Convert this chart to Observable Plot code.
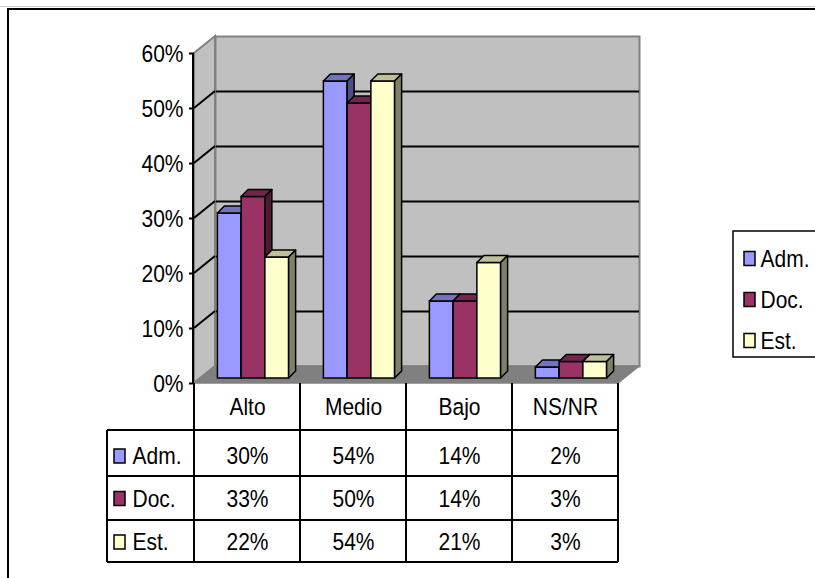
<!DOCTYPE html>
<html>
<head>
<meta charset="utf-8">
<script src="https://cdn.jsdelivr.net/npm/d3@7"></script>
<script src="https://cdn.jsdelivr.net/npm/@observablehq/plot@0.6"></script>
<style>
  body { margin: 0; background: #fff; }
  #wrap { position: relative; width: 815px; height: 578px; overflow: hidden; background: #fff; }
  #wrap svg { position: absolute; left: 0; top: 0; }
  #topline { position: absolute; left: 0; top: 6px; width: 815px; height: 1px; background: #c8c8c8; }
  #border { position: absolute; left: 7px; top: 8px; width: 900px; height: 700px; border: 2px solid #000; box-sizing: border-box; pointer-events: none; }
</style>
</head>
<body>
<div id="wrap"></div>
<script>
// ---- data ----
const categories = ["Alto", "Medio", "Bajo", "NS/NR"];
const seriesNames = ["Adm.", "Doc.", "Est."];
const admValues = [0.30, 0.54, 0.14, 0.02];
const docValues = [0.33, 0.50, 0.14, 0.03];
const estValues = [0.22, 0.54, 0.21, 0.03];
const yTicks = [0, 0.1, 0.2, 0.3, 0.4, 0.5, 0.6];
const gridTicks = [0.1, 0.2, 0.3, 0.4, 0.5];

// ---- styles ----
const frontColors = ["#9999FF", "#993366", "#FFFFCC"];
const topColors = ["#7373BF", "#73264D", "#BFBF99"];
const sideColors = ["#4D4D80", "#4D1A33", "#808066"];
const FONT = "'Liberation Sans', Arial, Helvetica, sans-serif";
const FS = 21;
const TEXT_STRETCH = 1.18;

const valueSeries = [admValues, docValues, estValues];
const rows = [];
valueSeries.forEach((vals, k) => categories.forEach((c, i) => rows.push({cat: c, series: seriesNames[k], k, value: vals[i]})));
const fmt = d3.format(".0%");

const W = 815, H = 578;
const M = {left: 194, right: 197, top: 53, bottom: 195};
const B = (W - M.left - M.right) / categories.length; // band width
const barW = 0.224 * B;
const groupPad = (B - 3 * barW) / 2;
const DX = 21, DY = -17;      // wall depth
const BFX = 6, BFY = -5;      // bar front offset
const BDX = 7, BDY = -7;      // bar depth
const rowDy = [72.5, 115, 158.5];
const headerDy = 23;
const tableLines = [47, 93, 137, 179];
const NS = "http://www.w3.org/2000/svg";

function el(tag, attrs) {
  const e = document.createElementNS(NS, tag);
  for (const [k, v] of Object.entries(attrs)) e.setAttribute(k, v);
  return e;
}

function walls(index, scales, values, dims) {
  const x0 = dims.marginLeft, x1 = dims.width - dims.marginRight;
  const y0 = scales.y(0), yT = scales.y(0.6);
  const g = el("g", {});
  g.appendChild(el("path", {d: `M${x0},${y0}L${x0},${yT}L${x0 + DX},${yT + DY}L${x0 + DX},${y0 + DY}Z`, fill: "#c0c0c0", stroke: "#808080", "stroke-width": 2}));
  for (const t of gridTicks) {
    const y = scales.y(t);
    g.appendChild(el("line", {x1: x0, y1: y, x2: x0 + DX, y2: y + DY, stroke: "#000", "stroke-width": 2}));
  }
  g.appendChild(el("path", {d: `M${x0},${y0}L${x1},${y0}L${x1 + DX},${y0 + DY}L${x0 + DX},${y0 + DY}Z`, fill: "#808080", stroke: "#808080", "stroke-width": 1.5}));
  return g;
}

function axisLine(index, scales, values, dims) {
  const x0 = dims.marginLeft - 1;
  return el("line", {x1: x0, y1: scales.y(0), x2: x0, y2: scales.y(0.6), stroke: "#000", "stroke-width": 2});
}

function table(index, scales, values, dims) {
  const x0 = dims.marginLeft, x1 = dims.width - dims.marginRight;
  const y0 = scales.y(0);
  const left = x0 - 87;
  const g = el("g", {stroke: "#000", "stroke-width": 2});
  const yEnd = y0 + tableLines[tableLines.length - 1];
  for (const t of tableLines) g.appendChild(el("line", {x1: left, y1: y0 + t, x2: x1, y2: y0 + t}));
  g.appendChild(el("line", {x1: left, y1: y0 + tableLines[0], x2: left, y2: yEnd}));
  categories.forEach(c => {
    const x = scales.x(c);
    g.appendChild(el("line", {x1: x, y1: y0, x2: x, y2: yEnd}));
  });
  g.appendChild(el("line", {x1: x1, y1: y0, x2: x1, y2: yEnd}));
  return g;
}

function legendBox(index, scales, values, dims) {
  const x1 = dims.width - dims.marginRight;
  const top = dims.marginTop;
  return el("rect", {x: x1 + 115, y: top + 178, width: 200, height: 126, fill: "#fff", stroke: "#000", "stroke-width": 1.5});
}

function bar3d(k) {
  return function (index, scales, values, dims, context, next) {
    const g = next(index, scales, values, dims, context);
    for (const r of Array.from(g.querySelectorAll("rect"))) {
      const x = +r.getAttribute("x"), y = +r.getAttribute("y");
      const w = +r.getAttribute("width"), h = +r.getAttribute("height");
      const top = el("path", {d: `M${x},${y}L${x + BDX},${y + BDY}L${x + w + BDX},${y + BDY}L${x + w},${y}Z`, fill: topColors[k], stroke: "#000", "stroke-width": 1.5, "stroke-linejoin": "round"});
      const side = el("path", {d: `M${x + w},${y}L${x + w + BDX},${y + BDY}L${x + w + BDX},${y + h + BDY}L${x + w},${y + h}Z`, fill: sideColors[k], stroke: "#000", "stroke-width": 1.5, "stroke-linejoin": "round"});
      r.after(top, side);
    }
    return g;
  };
}

const rectSymbol = {draw(ctx) { ctx.rect(-5.5, -7, 11, 14); }};

const marks = [
  Plot.frame({fill: "#c0c0c0", stroke: "#808080", strokeWidth: 2, dx: DX, dy: DY}),
  Plot.ruleY(gridTicks, {stroke: "#000", strokeWidth: 2, dx: DX, dy: DY}),
  walls,
];
valueSeries.forEach((vals, k) => {
  marks.push(Plot.barY(rows.filter(d => d.k === k), {
    x: "cat", y: "value", fill: frontColors[k], stroke: "#000", strokeWidth: 1.5,
    insetLeft: groupPad + k * barW, insetRight: B - groupPad - (k + 1) * barW,
    dx: BFX, dy: BFY, render: bar3d(k)
  }));
});
marks.push(axisLine);
marks.push(Plot.axisY(yTicks, {tickFormat: fmt, tickSize: 5, tickPadding: 6, strokeWidth: 2, fontSize: FS, label: null, fill: "#000", stroke: "#000"}));
marks.push(table);
marks.push(Plot.text(categories, {x: d => d, frameAnchor: "bottom", dy: headerDy, fontSize: FS, fill: "#000", lineAnchor: "middle"}));
valueSeries.forEach((vals, k) => {
  marks.push(Plot.text(rows.filter(d => d.k === k), {x: "cat", text: d => fmt(d.value), frameAnchor: "bottom", dy: rowDy[k], fontSize: FS, fill: "#000", lineAnchor: "middle"}));
  marks.push(Plot.dot([seriesNames[k]], {frameAnchor: "bottom-left", dx: -75, dy: rowDy[k], symbol: rectSymbol, fill: frontColors[k], stroke: "#000", strokeWidth: 1.5}));
  marks.push(Plot.text([seriesNames[k]], {frameAnchor: "bottom-left", text: d => d, dx: -62, dy: rowDy[k], textAnchor: "start", lineAnchor: "middle", fontSize: FS, fill: "#000"}));
});
marks.push(legendBox);
seriesNames.forEach((s, k) => {
  marks.push(Plot.dot([s], {frameAnchor: "top-right", dx: 131, dy: 205 + k * 41, symbol: rectSymbol, fill: frontColors[k], stroke: "#000", strokeWidth: 1.5}));
  marks.push(Plot.text([s], {frameAnchor: "top-right", text: d => d, dx: 142, dy: 205 + k * 41, textAnchor: "start", lineAnchor: "middle", fontSize: FS, fill: "#000"}));
});

const chart = Plot.plot({
  width: W, height: H,
  marginLeft: M.left, marginRight: M.right, marginTop: M.top, marginBottom: M.bottom,
  style: {fontFamily: FONT, fontSize: FS + "px", color: "#000", background: "transparent", overflow: "visible"},
  x: {type: "band", domain: categories, padding: 0, axis: null},
  y: {domain: [0, 0.6], axis: null},
  marks
});
const wrap = document.getElementById("wrap");
wrap.appendChild(chart);
// the reference's lettering is slightly taller than wide: stretch each label vertically about its centre
chart.querySelectorAll("text").forEach(t => {
  const b = t.getBBox();
  const cx = b.x + b.width / 2, cy = b.y + b.height / 2;
  const prev = t.getAttribute("transform") || "";
  t.setAttribute("transform", `${prev} translate(${cx},${cy}) scale(1,${TEXT_STRETCH}) translate(${-cx},${-cy})`);
});
const tl = document.createElement("div"); tl.id = "topline"; wrap.appendChild(tl);
const bd = document.createElement("div"); bd.id = "border"; wrap.appendChild(bd);
</script>
</body>
</html>
